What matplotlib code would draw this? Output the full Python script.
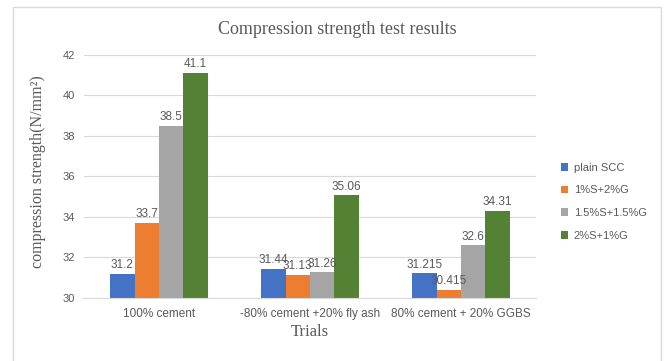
import numpy as np
import matplotlib
matplotlib.use("Agg")
import matplotlib.pyplot as plt
from matplotlib.patches import Rectangle

# trial mixes and admixture series
trials = ["100% cement", "-80% cement +20% fly ash", "80% cement + 20% GGBS"]
series = ["plain SCC", "1%S+2%G", "1.5%S+1.5%G", "2%S+1%G"]
plain_scc = [31.2, 31.44, 31.215]
s1_g2 = [33.7, 31.13, 30.415]
s15_g15 = [38.5, 31.26, 32.6]
s2_g1 = [41.1, 35.06, 34.31]
label_text = [["31.2", "31.44", "31.215"],
              ["33.7", "31.13", "30.415"],
              ["38.5", "31.26", "32.6"],
              ["41.1", "35.06", "34.31"]]
colors = ["#4472C4", "#ED7D31", "#A5A5A5", "#548235"]

values = [plain_scc, s1_g2, s15_g15, s2_g1]
grey = "#595959"
serif = ["Liberation Serif", "DejaVu Serif"]
sans = ["Liberation Sans", "DejaVu Sans"]

fig = plt.figure(figsize=(6.68, 3.61), dpi=100)
ax = fig.add_axes([0.125, 0.1745, 0.678, 0.6735])

# chart area border
fig.patches.append(Rectangle((13 / 668, -0.01), 648 / 668, 1 - 7 / 361 + 0.01,
                             transform=fig.transFigure, fill=False,
                             edgecolor="#d9d9d9", linewidth=1.0))

x = np.arange(len(trials))
width = 1 / (4 + 2.19)
for i, (name, vals, c) in enumerate(zip(series, values, colors)):
    pos = x + (i - 1.5) * width
    bars = ax.bar(pos, np.array(vals) - 30, width, bottom=30, color=c,
                  label=name, zorder=2)
    for b, v, t in zip(bars, vals, label_text[i]):
        ax.annotate(t, (b.get_x() + b.get_width() / 2, v),
                    xytext=(0, 2), textcoords="offset points",
                    ha="center", va="bottom", fontsize=8.5, color=grey,
                    family=sans, zorder=3)

ax.set_ylim(30, 42)
ax.set_xlim(-0.5, 2.5)
ax.set_yticks(np.arange(30, 43, 2))
ax.set_xticks(x)
ax.set_xticklabels(trials)
ax.tick_params(length=0, labelsize=8, labelcolor=grey, pad=6)
ax.tick_params(axis="x", labelsize=8.5, pad=7)
for lab in ax.get_xticklabels() + ax.get_yticklabels():
    lab.set_family(sans)
ax.grid(axis="y", color="#d9d9d9", linewidth=0.8, zorder=0)
for s in ["top", "right", "left"]:
    ax.spines[s].set_visible(False)
ax.spines["bottom"].set_color("#d9d9d9")

ax.set_xlabel("Trials", fontsize=12, color=grey, family=serif, labelpad=3)
fig.text(38 / 668, 1 - 172 / 361, "compression strength(N/mm²)",
         rotation=90, ha="center", va="center", fontsize=11.5, color=grey,
         family=serif)
fig.text(337 / 668, 1 - 29 / 361, "Compression strength test results",
         ha="center", va="center", fontsize=13, color=grey, family=serif)

ax.legend(loc="upper left", bbox_to_anchor=(555 / 668, 1 - 157 / 361),
          bbox_transform=fig.transFigure, frameon=False, borderpad=0,
          prop={"family": sans, "size": 8}, labelcolor=grey,
          handlelength=0.7, handleheight=0.7, handletextpad=0.5,
          labelspacing=1.15)

fig.savefig("out.png", dpi=100)
